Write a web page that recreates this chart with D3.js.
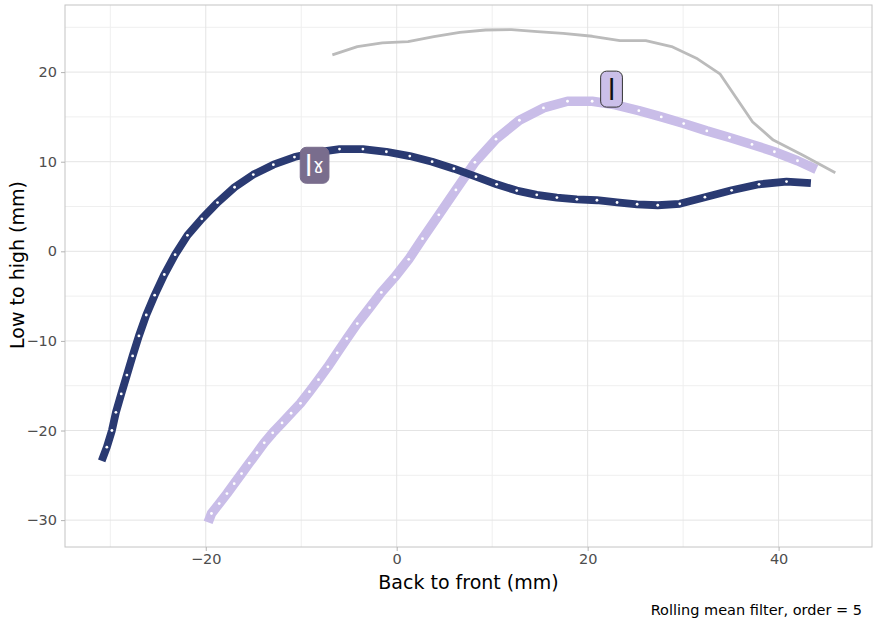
<!DOCTYPE html>
<html>
<head>
<meta charset="utf-8">
<script src="https://cdn.jsdelivr.net/npm/d3@7"></script>
<style>
  body { margin: 0; background: #fff; }
  svg { display: block; font-family: "DejaVu Sans", sans-serif; }
</style>
</head>
<body>
<svg id="chart" width="874" height="621"></svg>
<script>
// Velarised lateral contour (mm)
const velX = [-30.9, -30.36, -29.83, -29.41, -28.85, -28.26, -27.66, -27.0, -26.23, -25.35,
  -24.34, -23.21, -21.92, -20.41, -18.77, -16.98, -15.02, -12.92, -10.71, -8.4,
  -5.99, -3.54, -1.08, 1.37, 3.71, 5.99, 8.30, 10.47, 12.57, 14.67,
  16.78, 18.87, 20.97, 23.08, 25.18, 27.34, 29.65, 32.28, 35.08, 37.95,
  40.83, 43.38];
const velY = [-23.4, -21.86, -20.0, -17.97, -15.92, -13.81, -11.67, -9.44, -7.11, -4.89,
  -2.59, -0.37, 1.78, 3.63, 5.44, 7.15, 8.56, 9.67, 10.52, 11.05,
  11.41, 11.41, 11.11, 10.63, 10.0, 9.22, 8.33, 7.48, 6.78, 6.3,
  6.0, 5.8, 5.7, 5.45, 5.25, 5.14, 5.3, 6.04, 6.81, 7.48,
  7.78, 7.6];

// Plain lateral contour (mm)
const latX = [-19.75, -19.40, -18.59, -17.78, -17.02, -16.25, -15.44, -14.63, -13.87, -12.99,
  -12.01, -11.06, -10.08, -9.14, -8.19, -7.21, -6.23, -5.22, -4.13, -2.84,
  -1.61, -0.21, 1.26, 2.70, 4.41, 6.20, 8.19, 10.40, 12.85, 15.37,
  17.89, 20.47, 22.9, 25.36, 27.71, 30.06, 32.48, 34.86, 37.21, 39.56,
  41.98, 43.95];
const latY = [-30.25, -29.26, -28.15, -27.04, -25.93, -24.81, -23.63, -22.48, -21.37, -20.26,
  -19.15, -18.07, -16.96, -15.67, -14.33, -12.89, -11.33, -9.74, -8.07, -6.30,
  -4.59, -2.89, -0.89, 1.41, 4.07, 6.85, 9.93, 12.52, 14.63, 16.0,
  16.75, 16.75, 16.35, 15.7, 15.0, 14.26, 13.44, 12.7, 11.93, 11.11,
  10.11, 9.15];

// Palate trace (mm)
const palX = [-6.74, -4.12, -1.51, 1.19, 3.90, 6.61, 9.31, 12.02, 14.73, 17.43,
  20.49, 23.38, 26.09, 28.79, 31.5, 33.85, 37.28, 39.44, 42.5, 45.94];
const palY = [21.92, 22.85, 23.26, 23.41, 23.96, 24.44, 24.7, 24.74, 24.52, 24.33,
  24.0, 23.52, 23.52, 22.85, 21.48, 19.81, 14.44, 12.41, 10.74, 8.78];

// Axis breaks
const xTicks = [-20, 0, 20, 40];
const yTicks = [-30, -20, -10, 0, 10, 20];
const xMinor = [-30, -10, 10, 30];
const yMinor = [-25, -15, -5, 5, 15, 25];

// Contour labels: base letter plus optional secondary-articulation modifier
const labelBase = ["l", "l"];
const labelMod = ["ˠ", ""];
const labelX = [-8.6, 22.5];
const labelY = [9.6, 18.1];

const panel = { left: 65, right: 872, top: 5, bottom: 547 };

const svg = d3.select("#chart");

function expanded(values) {
  const [lo, hi] = d3.extent(values);
  const pad = (hi - lo) * 0.05;
  return [lo - pad, hi + pad];
}

const x = d3.scaleLinear()
  .domain(expanded([...velX, ...latX, ...palX]))
  .range([panel.left, panel.right]);
const y = d3.scaleLinear()
  .domain(expanded([...velY, ...latY, ...palY]))
  .range([panel.bottom, panel.top]);

// Grid
const grid = svg.append("g");
grid.selectAll(".vminor").data(xMinor).join("line")
  .attr("x1", d => x(d)).attr("x2", d => x(d))
  .attr("y1", panel.top).attr("y2", panel.bottom)
  .attr("stroke", "#efefef").attr("stroke-width", 1);
grid.selectAll(".hminor").data(yMinor).join("line")
  .attr("y1", d => y(d)).attr("y2", d => y(d))
  .attr("x1", panel.left).attr("x2", panel.right)
  .attr("stroke", "#efefef").attr("stroke-width", 1);
grid.selectAll(".vmajor").data(xTicks).join("line")
  .attr("x1", d => x(d)).attr("x2", d => x(d))
  .attr("y1", panel.top).attr("y2", panel.bottom)
  .attr("stroke", "#e4e4e4").attr("stroke-width", 1);
grid.selectAll(".hmajor").data(yTicks).join("line")
  .attr("y1", d => y(d)).attr("y2", d => y(d))
  .attr("x1", panel.left).attr("x2", panel.right)
  .attr("stroke", "#e4e4e4").attr("stroke-width", 1);

// Contours
function drawContour(xs, ys, colour, width, dots) {
  const pts = xs.map((v, i) => [v, ys[i]]);
  const line = d3.line().x(d => x(d[0])).y(d => y(d[1]));
  svg.append("path")
    .attr("d", line(pts))
    .attr("fill", "none")
    .attr("stroke", colour)
    .attr("stroke-width", width)
    .attr("stroke-linejoin", "round")
    .attr("stroke-linecap", "butt");
  if (dots) {
    svg.append("g").selectAll("circle").data(pts.slice(1, -1)).join("circle")
      .attr("cx", d => x(d[0])).attr("cy", d => y(d[1]))
      .attr("r", 1.4).attr("fill", "#ffffff");
  }
}
drawContour(latX, latY, "#c9bde8", 9.5, true);
drawContour(velX, velY, "#2a3a72", 7.8, true);
drawContour(palX, palY, "#bbbbbb", 2.8, false);

// Panel border
svg.append("rect")
  .attr("x", panel.left).attr("y", panel.top)
  .attr("width", panel.right - panel.left).attr("height", panel.bottom - panel.top)
  .attr("fill", "none").attr("stroke", "#c4c4c4").attr("stroke-width", 1);

// Axes
const xAxis = svg.append("g")
  .attr("transform", `translate(0,${panel.bottom})`)
  .call(d3.axisBottom(x).tickValues(xTicks).tickSize(4).tickPadding(3));
const yAxis = svg.append("g")
  .attr("transform", `translate(${panel.left},0)`)
  .call(d3.axisLeft(y).tickValues(yTicks).tickSize(4).tickPadding(4));
[xAxis, yAxis].forEach(g => {
  g.select(".domain").remove();
  g.selectAll(".tick line").attr("stroke", "#b3b3b3");
  g.selectAll(".tick text")
    .attr("fill", "#4d4d4d")
    .style("font-family", '"DejaVu Sans", sans-serif')
    .style("font-size", "14.5px");
});

// Axis titles and caption
svg.append("text")
  .attr("x", (panel.left + panel.right) / 2).attr("y", 589)
  .attr("text-anchor", "middle")
  .style("font-size", "19px").attr("fill", "#000")
  .text("Back to front (mm)");
svg.append("text")
  .attr("transform", "translate(24,265) rotate(-90)")
  .attr("text-anchor", "middle")
  .style("font-size", "19px").attr("fill", "#000")
  .text("Low to high (mm)");
svg.append("text")
  .attr("x", 862).attr("y", 615)
  .attr("text-anchor", "end")
  .style("font-size", "14.5px").attr("fill", "#000")
  .text("Rolling mean filter, order = 5");

// Contour labels
const labelFill = ["#796d8d", "#cbbfe9"];
const labelInk = ["#ffffff", "#111111"];
const labelEdge = ["#796d8d", "#333333"];
const labelPad = [9, 14];
labelBase.forEach((t, i) => {
  const g = svg.append("g");
  const cx = x(labelX[i]), cy = y(labelY[i]);
  const rect = g.append("rect");
  const txt = g.append("text")
    .attr("x", cx).attr("y", cy + 10.5)
    .attr("text-anchor", "middle")
    .style("font-size", "28px")
    .attr("fill", labelInk[i]);
  txt.append("tspan").text(t);
  if (labelMod[i]) txt.append("tspan").attr("dy", 3).text(labelMod[i]);
  const bb = txt.node().getBBox();
  const w = bb.width + labelPad[i], h = 36;
  rect.attr("x", cx - w / 2).attr("y", cy - h / 2)
    .attr("width", w).attr("height", h)
    .attr("rx", 6).attr("ry", 6)
    .attr("fill", labelFill[i])
    .attr("stroke", labelEdge[i]).attr("stroke-width", 1);
});
</script>
</body>
</html>
